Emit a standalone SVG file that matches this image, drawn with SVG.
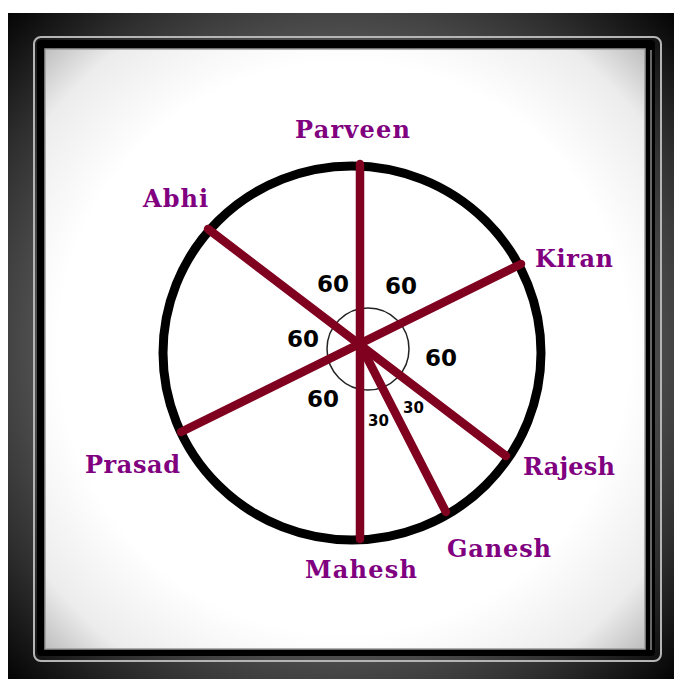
<svg xmlns="http://www.w3.org/2000/svg" width="674" height="679" viewBox="0 0 674 679">
<defs>
<radialGradient id="outer" cx="341" cy="345" r="480" gradientUnits="userSpaceOnUse">
<stop offset="0" stop-color="#666"/>
<stop offset="0.62" stop-color="#525252"/>
<stop offset="0.8" stop-color="#2e2e2e"/>
<stop offset="1" stop-color="#000"/>
</radialGradient>
<radialGradient id="inner" cx="344" cy="348" r="440" gradientUnits="userSpaceOnUse">
<stop offset="0" stop-color="#fff"/>
<stop offset="0.65" stop-color="#fff"/>
<stop offset="0.85" stop-color="#ececec"/>
<stop offset="1" stop-color="#b0b0b0"/>
</radialGradient>
</defs>
<style>
.lbl{font-family:"DejaVu Serif","Liberation Serif",serif;font-weight:bold;font-size:24px;fill:#800080}
.num{font-family:"DejaVu Sans","Liberation Sans",sans-serif;font-weight:bold;font-size:23px;fill:#000}
.sm{font-family:"DejaVu Sans","Liberation Sans",sans-serif;font-weight:bold;font-size:15px;fill:#000}
.spoke{stroke:#800020;stroke-width:8.5;stroke-linecap:round;fill:none}
</style>
<rect width="674" height="679" fill="#fff"/>
<rect x="8" y="13" width="666" height="666" fill="url(#outer)"/>
<rect x="34" y="37" width="627" height="624" rx="7" fill="none" stroke="#b5b5b5" stroke-width="2"/>
<rect x="37" y="40" width="618" height="616" rx="4" fill="#000"/>
<rect x="45" y="49" width="600" height="600" fill="url(#inner)" stroke="#999" stroke-width="1.5"/>
<line x1="651" y1="50" x2="651" y2="650" stroke="#8a8a8a" stroke-width="1.5"/>
<g id="circle">
<ellipse cx="352" cy="353" rx="189" ry="187" fill="none" stroke="#000" stroke-width="9"/>
<circle cx="368" cy="349" r="41" fill="none" stroke="#222" stroke-width="1.5"/>
</g>
<g id="connectors">
<line class="spoke" x1="360" y1="164" x2="360" y2="539"/>
<line class="spoke" x1="208" y1="229" x2="506" y2="456"/>
<line class="spoke" x1="521" y1="264" x2="181" y2="432"/>
<line class="spoke" x1="361" y1="346" x2="446" y2="512"/>
</g>
<g id="angles">
<text class="num" x="317" y="292">60</text>
<text class="num" x="385" y="294">60</text>
<text class="num" x="287" y="347">60</text>
<text class="num" x="425" y="366">60</text>
<text class="num" x="307" y="407">60</text>
<text class="sm" x="368" y="426">30</text>
<text class="sm" x="403" y="413">30</text>
</g>
<g id="parveen"><text class="lbl" x="295" y="138" textLength="115">Parveen</text></g>
<g id="abhi"><text class="lbl" x="143" y="207" textLength="65">Abhi</text></g>
<g id="kiran"><text class="lbl" x="535" y="267" textLength="78">Kiran</text></g>
<g id="prasad"><text class="lbl" x="85" y="473" textLength="95">Prasad</text></g>
<g id="rajesh"><text class="lbl" x="523" y="475" textLength="92">Rajesh</text></g>
<g id="ganesh"><text class="lbl" x="447" y="557" textLength="104">Ganesh</text></g>
<g id="mahesh"><text class="lbl" x="305" y="578" textLength="112">Mahesh</text></g>
</svg>
